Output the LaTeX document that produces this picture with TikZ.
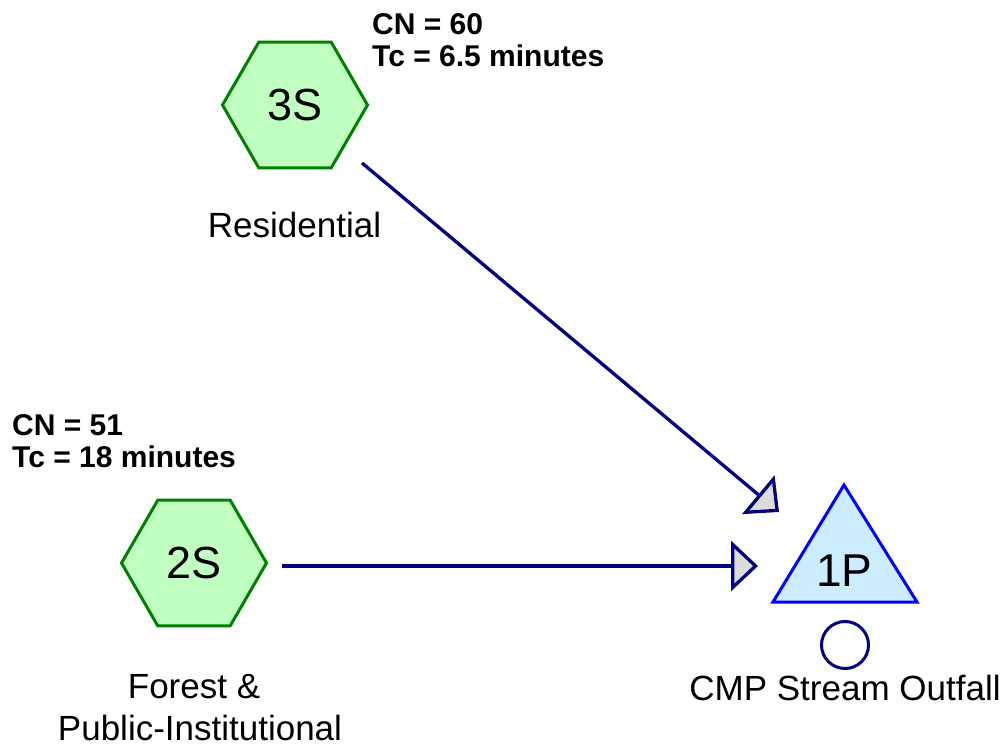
\documentclass[tikz,border=0pt]{standalone}
\usepackage{fontspec}
\setmainfont{Liberation Sans}
\usetikzlibrary{shapes.geometric,arrows.meta}
\definecolor{hexfill}{RGB}{192,255,192}
\definecolor{hexdraw}{RGB}{0,128,0}
\definecolor{pondfill}{RGB}{204,236,255}
\definecolor{ponddraw}{RGB}{0,0,255}
\definecolor{navyline}{RGB}{0,0,128}
\definecolor{tipfill}{RGB}{220,220,220}
\tikzset{
  hexa/.style={regular polygon, regular polygon sides=6, minimum size=145pt, inner sep=0pt,
    draw=hexdraw, fill=hexfill, line width=3pt, font=\fontsize{45}{54}\selectfont},
  pondshape/.style={draw=ponddraw, fill=pondfill, line width=3pt, line join=miter},
  pondlabel/.style={inner sep=0pt, font=\fontsize{46}{54}\selectfont},
  outlet/.style={circle, draw=navyline, line width=3pt, minimum size=47pt, inner sep=0pt},
  flow/.style={draw=navyline, line width=3.3pt,
    -{Triangle[length=27pt, width=50pt, fill=tipfill, line width=3.3pt]}},
  lbl/.style={inner sep=0pt, anchor=base, font=\fontsize{35}{41}\selectfont},
  info/.style={inner sep=0pt, anchor=base west, font=\fontsize{30}{32}\selectfont\bfseries},
}
\begin{document}
\begin{tikzpicture}[x=1pt, y=-1pt]
\useasboundingbox (0,0) rectangle (1007,746);
% subcatchment 3S
\node[hexa] (hex3) at (295,105) {3S};
\node[info] (cn3) at (372,35) {CN = 60};
\node[info] (tc3) at (372,67) {Tc = 6.5 minutes};
\node[lbl] (res) at (294.5,238) {Residential};
% subcatchment 2S
\node[hexa] (hex2) at (194,563) {2S};
\node[info] (cn2) at (12,435) {CN = 51};
\node[info] (tc2) at (12,467) {Tc = 18 minutes};
\node[lbl] (forest) at (194,698) {Forest \&};
\node[lbl] (public) at (200,740) {Public-Institutional};
% pond 1P
\path[pondshape] (844,485) -- (917,602) -- (773,602) -- cycle;
\node[pondlabel] (pond) at (844.5,571) {1P};
\node[outlet] (out) at (845,645) {};
\node[lbl] (cmp) at (845,700) {CMP Stream Outfall};
% connectors
\coordinate (o3) at (362,163);
\coordinate (i3) at (779,512);
\coordinate (o2) at (282,566);
\coordinate (i2) at (758,566);
\draw[flow] (o3) -- (i3);
\draw[flow] (o2) -- (i2);
\end{tikzpicture}
\end{document}
